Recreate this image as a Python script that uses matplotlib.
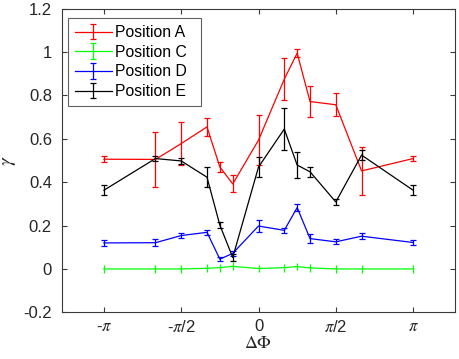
import numpy as np
import matplotlib
matplotlib.use("Agg")
import matplotlib.pyplot as plt

plt.rcParams['font.family'] = ['Liberation Sans', 'DejaVu Sans']
plt.rcParams['mathtext.fontset'] = 'stix'

# x positions in units of pi
x_frac = [-1, -2/3, -1/2, -1/3, -1/4, -1/6, 0, 1/6, 1/4, 1/3, 1/2, 2/3, 1]

posA = [0.506, 0.505, 0.578, 0.655, 0.470, 0.392, 0.594, 0.875, 0.995, 0.772, 0.757, 0.452, 0.509]
errA = [0.015, 0.127, 0.100, 0.043, 0.022, 0.039, 0.115, 0.097, 0.018, 0.071, 0.054, 0.112, 0.012]

posC = [0.0, 0.0, 0.0, 0.003, 0.006, 0.012, 0.002, 0.006, 0.011, 0.005, 0.0, 0.0, 0.0]
errC = [0.018] * 13

posD = [0.120, 0.121, 0.154, 0.169, 0.045, 0.072, 0.198, 0.178, 0.283, 0.140, 0.125, 0.151, 0.122]
errD = [0.013, 0.015, 0.011, 0.012, 0.010, 0.012, 0.028, 0.013, 0.018, 0.020, 0.011, 0.013, 0.012]

posE = [0.363, 0.509, 0.498, 0.423, 0.202, 0.053, 0.470, 0.645, 0.479, 0.448, 0.309, 0.525, 0.363]
errE = [0.024, 0.012, 0.012, 0.045, 0.015, 0.018, 0.048, 0.097, 0.058, 0.023, 0.015, 0.022, 0.023]

labels = ['Position A', 'Position C', 'Position D', 'Position E']
colors = ['#ff0000', '#00ff00', '#0000ff', '#000000']

xtick_vals = [-1, -0.5, 0, 0.5, 1]
xtick_labels = [r'-$\pi$', r'-$\pi$/2', '0', r'$\pi$/2', r'$\pi$']
ytick_vals = [-0.2, 0, 0.2, 0.4, 0.6, 0.8, 1.0, 1.2]
ytick_labels = ['-0.2', '0', '0.2', '0.4', '0.6', '0.8', '1', '1.2']

x = np.array(x_frac) * np.pi

fig = plt.figure(figsize=(4.59, 3.59), dpi=100)
ax = fig.add_axes([0.1344, 0.130, 0.992 - 0.1344, 0.9758 - 0.130])

handles = []
for y, e, c, lab in zip([posA, posC, posD, posE], [errA, errC, errD, errE], colors, labels):
    cs = 0 if lab == 'Position C' else 2.3
    ax.errorbar(x, y, yerr=e, color=c, lw=0.9, elinewidth=0.9, capsize=cs,
                capthick=0.9)
    # legend proxy (not drawn in data area)
    h = ax.errorbar([np.nan], [np.nan], yerr=[0.01], color=c, lw=0.9,
                    elinewidth=0.9, capsize=2.3, capthick=0.9, label=lab)
    handles.append(h)

ax.set_xlim(-4, 4)
ax.set_ylim(-0.2, 1.2)
ax.set_xticks(np.array(xtick_vals) * np.pi)
ax.set_xticklabels(xtick_labels)
ax.set_yticks(ytick_vals)
ax.set_yticklabels(ytick_labels)

grey = '#262626'
for s in ax.spines.values():
    s.set_color('#3a3a3a')
    s.set_linewidth(0.8)
ax.tick_params(direction='in', length=3.5, width=0.8, color='#3a3a3a',
               top=True, right=True, labelsize=12, labelcolor=grey)
ax.tick_params(axis='x', pad=4.5)
ax.tick_params(axis='y', pad=7)

ax.set_xlabel(r'$\Delta\Phi$', fontsize=13, color=grey, labelpad=0)
ax.set_ylabel(r'$\gamma$', fontsize=14, color=grey, labelpad=4)

leg = ax.legend(handles=handles, labels=labels, loc='upper left',
                bbox_to_anchor=(0.0168, 0.0, 0.338, 0.968), mode='expand',
                borderaxespad=0,
                fontsize=11.3, frameon=True, fancybox=False,
                handlelength=2.35, handletextpad=0.2, labelspacing=0.3,
                borderpad=0.42)
leg.get_frame().set_edgecolor('#3a3a3a')
leg.get_frame().set_linewidth(0.8)

fig.savefig('out.png', dpi=100)
